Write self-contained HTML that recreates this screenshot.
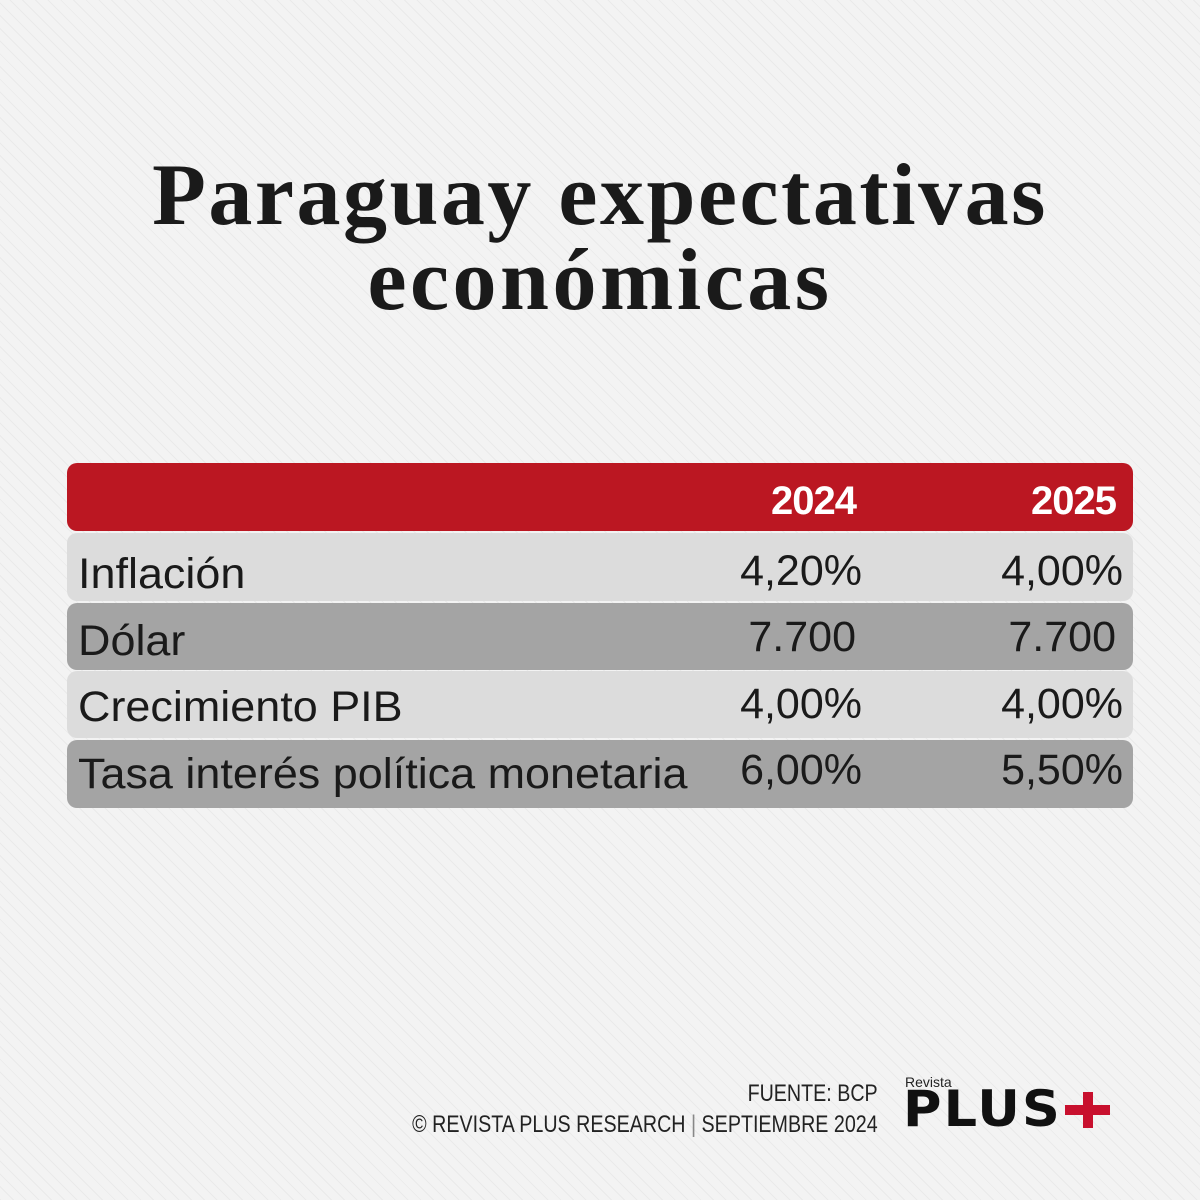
<!DOCTYPE html>
<html><head><meta charset="utf-8"><style>
*{margin:0;padding:0;box-sizing:border-box}
body{width:1200px;height:1200px;position:relative;overflow:hidden;font-family:"Liberation Sans",sans-serif;
background:#f3f3f3;
background-image:repeating-linear-gradient(45deg,rgba(0,0,0,0.035) 0 1px,transparent 1px 9px);}
.t{position:absolute;left:0;width:1200px;text-align:center;font-family:"Liberation Serif",serif;font-weight:bold;font-size:88px;color:#1a1a1a;letter-spacing:2.5px;line-height:1}
.bar{position:absolute;left:67px;width:1066px;border-radius:10px}
.lab{position:absolute;left:78px;font-size:43px;color:#1a1a1a;line-height:1;transform:scaleX(1.045);transform-origin:left}
.v{position:absolute;font-size:43px;color:#1a1a1a;line-height:1;text-align:right;width:200px}
.h{position:absolute;font-size:40px;font-weight:bold;color:#fff;line-height:1;text-align:right;width:200px;letter-spacing:-1px}
.f{position:absolute;right:322px;font-size:24px;color:#222;white-space:nowrap;transform:scaleX(0.82);transform-origin:right center;line-height:1}
</style></head><body>
<div class="t" style="top:152px">Paraguay expectativas</div>
<div class="t" style="top:237px;letter-spacing:3.5px">económicas</div>

<div class="bar" style="top:463px;height:68px;background:#bb1722"></div>
<div class="h" style="left:656px;top:481px">2024</div>
<div class="h" style="left:916px;top:481px">2025</div>

<div class="bar" style="top:533px;height:68px;background:#dcdcdc"></div>
<div class="bar" style="top:603px;height:67px;background:#a4a4a4"></div>
<div class="bar" style="top:671px;height:67px;background:#dcdcdc"></div>
<div class="bar" style="top:740px;height:68px;background:#a4a4a4"></div>

<div class="lab" style="top:553px">Inflación</div>
<div class="v" style="left:662px;top:550px">4,20%</div>
<div class="v" style="left:923px;top:550px">4,00%</div>

<div class="lab" style="top:620px">Dólar</div>
<div class="v" style="left:656px;top:616px">7.700</div>
<div class="v" style="left:916px;top:616px">7.700</div>

<div class="lab" style="top:686px">Crecimiento PIB</div>
<div class="v" style="left:662px;top:683px">4,00%</div>
<div class="v" style="left:923px;top:683px">4,00%</div>

<div class="lab" style="top:753px">Tasa interés política monetaria</div>
<div class="v" style="left:662px;top:749px">6,00%</div>
<div class="v" style="left:923px;top:749px">5,50%</div>

<div class="f" style="top:1082px">FUENTE: BCP</div>
<div class="f" style="top:1113px">© REVISTA PLUS RESEARCH <span style="color:#888">|</span> SEPTIEMBRE 2024</div>

<div style="position:absolute;left:905px;top:1074px;font-size:14px;color:#222">Revista</div>
<div style="position:absolute;left:903px;top:1084px;font-size:50px;font-weight:900;color:#111;letter-spacing:2px;line-height:1;font-family:'DejaVu Sans',sans-serif;transform:scaleX(1.05);transform-origin:left">PLUS</div>
<div style="position:absolute;left:1065px;top:1105px;width:45px;height:10px;background:#c8102e"></div>
<div style="position:absolute;left:1083px;top:1092px;width:10px;height:36px;background:#c8102e"></div>
</body></html>
